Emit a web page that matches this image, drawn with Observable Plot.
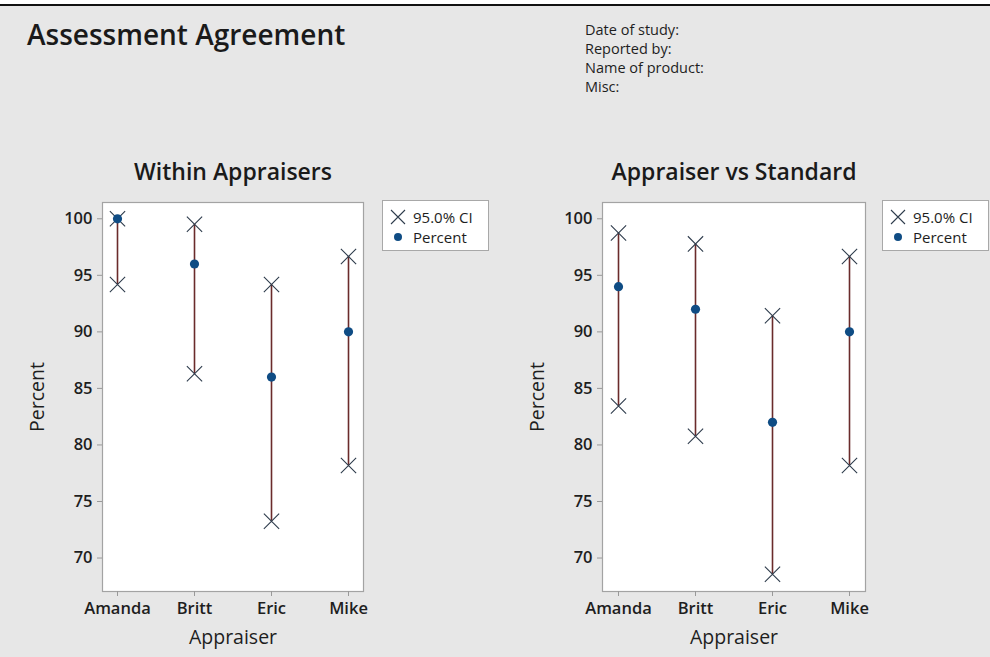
<!DOCTYPE html>
<html>
<head>
<meta charset="utf-8">
<script src="https://cdn.jsdelivr.net/npm/d3@7"></script>
<script src="https://cdn.jsdelivr.net/npm/@observablehq/plot@0.6"></script>
<style>
  html, body { margin: 0; padding: 0; background: #e7e7e7; }
  #root { position: relative; width: 990px; height: 657px; background: #e7e7e7; overflow: hidden; font-family: "Open Sans", "Noto Sans", sans-serif; color: #1e1e1e; }
  .abs { position: absolute; white-space: nowrap; }
  .legend { position: absolute; background: #fff; border: 1px solid #a8a8a8; box-sizing: border-box; font-size: 15px; color: #1e1e1e; }
  .legend .row { position: absolute; left: 0; display: flex; align-items: center; height: 20px; }
  .legend svg { display: block; }
</style>
</head>
<body>
<div id="root">
  <div class="abs" style="left:0;top:0;width:990px;height:4px;background:#fff"></div>
  <div class="abs" style="left:0;top:4px;width:990px;height:2px;background:#111"></div>
  <div class="abs" style="left:27px;top:18px;font-size:28px;line-height:32px;font-weight:600;color:#1a1a1a">Assessment Agreement</div>
  <div class="abs" id="header" style="left:585px;top:20px;font-size:14.5px;line-height:19px;color:#1e1e1e"></div>
  <div class="abs" id="t1" style="top:157px;font-size:23px;line-height:28px;font-weight:600;color:#1a1a1a;transform:translateX(-50%)"></div>
  <div class="abs" id="t2" style="top:157px;font-size:23px;line-height:28px;font-weight:600;color:#1a1a1a;transform:translateX(-50%)"></div>
  <div class="abs" id="p1" style="left:0;top:150px"></div>
  <div class="abs" id="p2" style="left:500px;top:150px"></div>
</div>
<script>
// ---- data ----
const appraisers = ["Amanda", "Britt", "Eric", "Mike"];
const withinPercent = [100, 96, 86, 90];
const withinLower = [94.18, 86.29, 73.26, 78.19];
const withinUpper = [100, 99.51, 94.18, 96.67];
const vsStdPercent = [94, 92, 82, 90];
const vsStdLower = [83.45, 80.77, 68.56, 78.19];
const vsStdUpper = [98.75, 97.78, 91.42, 96.67];
const yTicks = [70, 75, 80, 85, 90, 95, 100];
const panelTitles = ["Within Appraisers", "Appraiser vs Standard"];
const axisLabels = ["Appraiser", "Percent"];
const headerLines = ["Date of study:", "Reported by:", "Name of product:", "Misc:"];
const legendLabels = ["95.0% CI", "Percent"];

const C_LINE = "#6a2b2b";
const C_X = "#2f3d4d";
const C_DOT = "#0f4c84";

document.getElementById("header").innerHTML = headerLines.map(s => `<div>${s}</div>`).join("");

function rows(pct, lo, hi) {
  return appraisers.map((a, i) => ({name: a, pct: pct[i], lo: lo[i], hi: hi[i]}));
}

function panel(data, width, marginRight) {
  return Plot.plot({
    width, height: 507,
    marginLeft: 102, marginRight, marginTop: 52, marginBottom: 66,
    style: {background: "transparent", fontFamily: "'Open Sans', 'Noto Sans', sans-serif", fontSize: "16.5px", color: "#1e1e1e"},
    x: {type: "point", domain: appraisers, padding: 0.19},
    y: {domain: [67.04, 101.44]},
    marks: [
      Plot.frame({fill: "white", stroke: null}),
      Plot.ruleX(data, {x: "name", y1: "lo", y2: "hi", stroke: C_LINE, strokeWidth: 1.6}),
      Plot.dot(data, {x: "name", y: "lo", symbol: "times", r: 7, stroke: C_X, strokeWidth: 1.1}),
      Plot.dot(data, {x: "name", y: "hi", symbol: "times", r: 7, stroke: C_X, strokeWidth: 1.1}),
      Plot.dot(data, {x: "name", y: "pct", r: 4.6, fill: C_DOT, stroke: null}),
      Plot.frame({stroke: "#a3a3a3", strokeWidth: 1.2}),
      Plot.axisY(yTicks, {tickSize: 5, tickPadding: 5, stroke: "#999", fontSize: 16.5, fontWeight: 600, label: null}),
      Plot.axisX({tickSize: 5, tickPadding: 6, stroke: "#999", fontSize: 16.5, fontWeight: 600, label: null}),
      Plot.text([axisLabels[0]], {text: d => d, frameAnchor: "bottom", lineAnchor: "middle", textAnchor: "middle", dy: 46, fontSize: 19.5, fill: "#1e1e1e"}),
      Plot.text([axisLabels[1]], {text: d => d, frameAnchor: "left", lineAnchor: "middle", textAnchor: "middle", dx: -65, rotate: -90, fontSize: 19.5, fill: "#1e1e1e"})
    ]
  });
}

function legend(left) {
  const el = document.createElement("div");
  el.className = "legend";
  el.style.left = left + "px";
  el.style.top = "200px";
  el.style.width = "107px";
  el.style.height = "51px";
  el.innerHTML =
    `<div class="row" style="top:6px"><svg width="30" height="20"><path d="M8,3L22,17M8,17L22,3" stroke="${C_X}" stroke-width="1.1" fill="none"/></svg><span>${legendLabels[0]}</span></div>` +
    `<div class="row" style="top:26px"><svg width="30" height="20"><circle cx="15" cy="10" r="4" fill="${C_DOT}"/></svg><span>${legendLabels[1]}</span></div>`;
  document.getElementById("root").appendChild(el);
}

document.getElementById("p1").appendChild(panel(rows(withinPercent, withinLower, withinUpper), 495, 132));
document.getElementById("p2").appendChild(panel(rows(vsStdPercent, vsStdLower, vsStdUpper), 490, 125));

const t1 = document.getElementById("t1"); t1.textContent = panelTitles[0]; t1.style.left = "233px";
const t2 = document.getElementById("t2"); t2.textContent = panelTitles[1]; t2.style.left = "734px";

legend(382);
legend(882);
</script>
</body>
</html>
